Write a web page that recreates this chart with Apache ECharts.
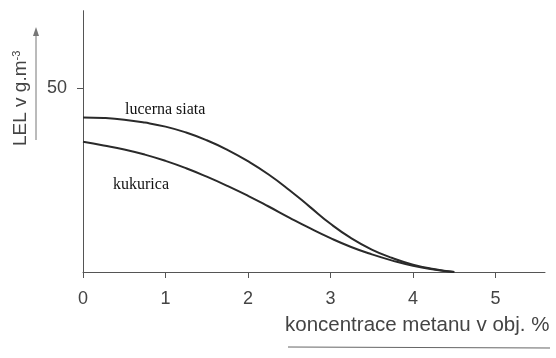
<!DOCTYPE html>
<html>
<head>
<meta charset="utf-8">
<script src="https://cdn.jsdelivr.net/npm/echarts@6/dist/echarts.min.js"></script>
<style>html,body{margin:0;padding:0;background:#fff}#c{width:556px;height:358px}</style>
</head>
<body>
<div id="c"></div>
<script>
const concentration = [0, 0.25, 0.5, 0.75, 1, 1.25, 1.5, 1.75, 2, 2.25, 2.5, 2.75, 3, 3.25, 3.5, 3.75, 4, 4.25, 4.5];
const lucernaSiata = [42, 41.85, 41.4, 40.6, 39.5, 37.9, 35.8, 33.2, 30.1, 26.5, 22.3, 17.7, 13.1, 9.2, 6.1, 3.8, 2.0, 0.8, 0];
const kukurica = [35.4, 34.4, 33.3, 31.9, 30.2, 28.2, 25.9, 23.4, 20.7, 17.8, 14.8, 11.9, 9.2, 6.8, 4.8, 3.1, 1.7, 0.7, 0];
const xTicks = [0, 1, 2, 3, 4, 5];
const yTicks = [50];
const seriesNames = ['lucerna siata', 'kukurica'];

const chart = echarts.init(document.getElementById('c'), null, {renderer: 'canvas'});
const pair = arr => concentration.map((x, i) => [x, arr[i]]);
const axisColor = '#555';
const labelFont = {color: '#444', fontSize: 18, fontFamily: 'Liberation Sans, Arial, sans-serif'};

chart.setOption({
  animation: false,
  backgroundColor: '#fff',
  grid: {left: 83, right: 11, top: 10.7, bottom: 86},
  xAxis: {
    type: 'value', min: 0, max: 5.6,
    axisLine: {show: true, lineStyle: {color: axisColor, width: 1}},
    axisTick: {show: true, length: 6, lineStyle: {color: axisColor}, customValues: xTicks},
    axisLabel: Object.assign({margin: 18, customValues: xTicks}, labelFont),
    splitLine: {show: false}
  },
  yAxis: {
    type: 'value', min: 0, max: 71,
    axisLine: {show: true, lineStyle: {color: axisColor, width: 1}},
    axisTick: {show: true, length: 6, lineStyle: {color: axisColor}, customValues: yTicks},
    axisLabel: Object.assign({margin: 16, customValues: yTicks}, labelFont),
    splitLine: {show: false}
  },
  series: [
    {name: seriesNames[0], type: 'line', smooth: true, symbol: 'none', data: pair(lucernaSiata),
     lineStyle: {color: '#2a2a2a', width: 2}},
    {name: seriesNames[1], type: 'line', smooth: true, symbol: 'none', data: pair(kukurica),
     lineStyle: {color: '#2a2a2a', width: 2}}
  ],
  graphic: [
    {type: 'text', left: 125, top: 102, style: {text: seriesNames[0], fill: '#111', font: '16px "Liberation Serif", "Times New Roman", serif'}},
    {type: 'text', left: 113, top: 177, style: {text: seriesNames[1], fill: '#111', font: '16px "Liberation Serif", "Times New Roman", serif'}},
    {type: 'text', left: 285, top: 315, style: {text: 'koncentrace metanu v obj. %', fill: '#444', font: '20.5px "Liberation Sans", Arial, sans-serif'}},
    {type: 'line', shape: {x1: 288, y1: 347, x2: 550, y2: 348}, style: {stroke: '#666', lineWidth: 1}},
    {type: 'text', x: 11, y: 146, rotation: Math.PI / 2,
     style: {text: 'LEL v g.m{sup|-3}', fill: '#444', font: '19px "Liberation Sans", Arial, sans-serif',
             rich: {sup: {fontSize: 11, verticalAlign: 'top', fill: '#444', padding: [0, 0, 8, 0]}}}},
    {type: 'line', shape: {x1: 36, y1: 140, x2: 36, y2: 30}, style: {stroke: '#777', lineWidth: 1}},
    {type: 'polygon', shape: {points: [[36, 27], [33, 36], [39, 36]]}, style: {fill: '#777'}}
  ]
});
</script>
</body>
</html>
